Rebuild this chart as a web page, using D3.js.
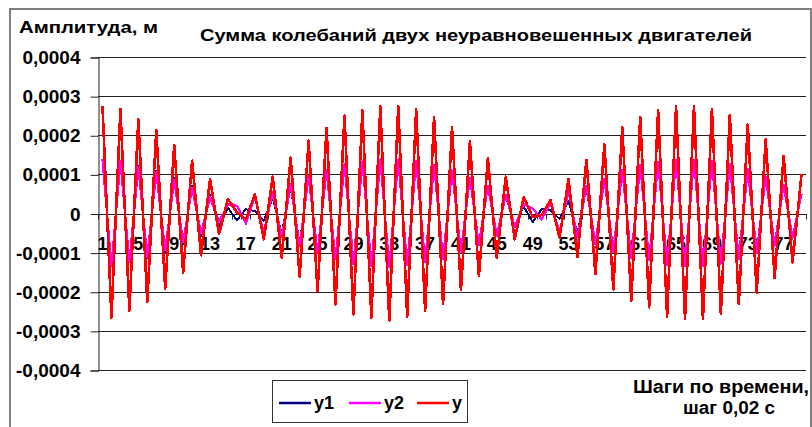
<!DOCTYPE html>
<html>
<head>
<meta charset="utf-8">
<script src="https://cdn.jsdelivr.net/npm/d3@7"></script>
<style>
  html, body { margin: 0; padding: 0; background: #fff; }
  svg { display: block; font-family: "Liberation Sans", Arial, sans-serif; font-weight: bold; }
</style>
</head>
<body>
<svg id="chart" width="812" height="427"></svg>
<script>
// Time steps (0.02 s each)
const categories = d3.range(1, 80);

// Oscillation of the first motor, m
const y1 = [
  1.36e-4, -1.32e-4, 1.33e-4, -1.25e-4, 1.22e-4, -1.14e-4, 1.08e-4, -0.98e-4, 0.90e-4, -0.78e-4,
  0.70e-4, -0.57e-4, 0.47e-4, -0.32e-4, 0.14e-4, -0.17e-4, 0.11e-4, 0.06e-4, -0.18e-4, 0.40e-4,
  -0.52e-4, 0.68e-4, -0.78e-4, 0.91e-4, -0.98e-4, 1.08e-4, -1.15e-4, 1.24e-4, -1.28e-4, 1.31e-4,
  -1.32e-4, 1.37e-4, -1.36e-4, 1.37e-4, -1.32e-4, 1.33e-4, -1.25e-4, 1.23e-4, -1.16e-4, 1.10e-4,
  -0.98e-4, 0.92e-4, -0.80e-4, 0.70e-4, -0.56e-4, 0.46e-4, -0.32e-4, 0.18e-4, -0.22e-4, 0.11e-4,
  0.08e-4, -0.14e-4, 0.32e-4, -0.50e-4, 0.66e-4, -0.76e-4, 0.88e-4, -0.96e-4, 1.09e-4, -1.11e-4,
  1.23e-4, -1.20e-4, 1.32e-4, -1.32e-4, 1.37e-4, -1.35e-4, 1.37e-4, -1.35e-4, 1.33e-4, -1.28e-4,
  1.26e-4, -1.16e-4, 1.14e-4, -1.01e-4, 0.95e-4, -0.83e-4, 0.74e-4, -0.63e-4, 0.50e-4
];

// Oscillation of the second motor, m
const y2 = [
  1.39e-4, -1.34e-4, 1.34e-4, -1.24e-4, 1.19e-4, -1.11e-4, 1.05e-4, -0.94e-4, 0.85e-4, -0.73e-4,
  0.65e-4, -0.50e-4, 0.41e-4, -0.21e-4, 0.23e-4, 0.20e-4, -0.26e-4, 0.43e-4, -0.48e-4, 0.54e-4,
  -0.61e-4, 0.75e-4, -0.84e-4, 0.95e-4, -1.01e-4, 1.10e-4, -1.17e-4, 1.26e-4, -1.30e-4, 1.33e-4,
  -1.34e-4, 1.38e-4, -1.37e-4, 1.38e-4, -1.32e-4, 1.34e-4, -1.24e-4, 1.24e-4, -1.16e-4, 1.10e-4,
  -0.98e-4, 0.92e-4, -0.80e-4, 0.71e-4, -0.57e-4, 0.48e-4, -0.34e-4, 0.24e-4, 0.13e-4, -0.15e-4,
  0.26e-4, -0.48e-4, 0.56e-4, -0.61e-4, 0.71e-4, -0.79e-4, 0.89e-4, -0.98e-4, 1.11e-4, -1.13e-4,
  1.24e-4, -1.20e-4, 1.32e-4, -1.32e-4, 1.38e-4, -1.35e-4, 1.38e-4, -1.35e-4, 1.34e-4, -1.28e-4,
  1.26e-4, -1.16e-4, 1.13e-4, -1.01e-4, 0.95e-4, -0.82e-4, 0.73e-4, -0.62e-4, 0.50e-4
];

// Resulting sum of both oscillations, m
const y = [
  2.75e-4, -2.66e-4, 2.67e-4, -2.49e-4, 2.41e-4, -2.25e-4, 2.13e-4, -1.92e-4, 1.75e-4, -1.51e-4,
  1.35e-4, -1.07e-4, 0.88e-4, -0.53e-4, 0.37e-4, 0.03e-4, -0.15e-4, 0.49e-4, -0.66e-4, 0.94e-4,
  -1.13e-4, 1.43e-4, -1.62e-4, 1.86e-4, -1.99e-4, 2.18e-4, -2.32e-4, 2.50e-4, -2.58e-4, 2.64e-4,
  -2.66e-4, 2.75e-4, -2.73e-4, 2.75e-4, -2.64e-4, 2.67e-4, -2.49e-4, 2.47e-4, -2.32e-4, 2.20e-4,
  -1.96e-4, 1.84e-4, -1.60e-4, 1.41e-4, -1.13e-4, 0.94e-4, -0.66e-4, 0.42e-4, -0.09e-4, -0.04e-4,
  0.34e-4, -0.62e-4, 0.88e-4, -1.11e-4, 1.37e-4, -1.55e-4, 1.77e-4, -1.94e-4, 2.20e-4, -2.24e-4,
  2.47e-4, -2.40e-4, 2.64e-4, -2.64e-4, 2.75e-4, -2.70e-4, 2.75e-4, -2.70e-4, 2.67e-4, -2.56e-4,
  2.52e-4, -2.32e-4, 2.27e-4, -2.02e-4, 1.90e-4, -1.65e-4, 1.47e-4, -1.25e-4, 1.00e-4
];

const yTicks = [-0.0004, -0.0003, -0.0002, -0.0001, 0, 0.0001, 0.0002, 0.0003, 0.0004];
const yTickLabels = ["-0,0004", "-0,0003", "-0,0002", "-0,0001", "0", "0,0001", "0,0002", "0,0003", "0,0004"];
const xLabelStep = 4;

const seriesNames = ["y1", "y2", "y"];
const seriesColors = ["#000080", "#ff00ff", "#ff0000"];
const seriesWidths = [2, 2.2, 2.6];

const svg = d3.select("#chart");

// chart area frame
svg.append("rect")
  .attr("x", 10).attr("y", 9).attr("width", 801).attr("height", 430)
  .attr("fill", "#fff").attr("stroke", "#808080").attr("stroke-width", 2);

const plot = { left: 98, right: 806, top: 57, bottom: 370 };

const x = d3.scaleBand().domain(categories).range([plot.left, plot.right]).padding(0);
const yScale = d3.scaleLinear().domain([-0.0004, 0.0004]).range([plot.bottom, plot.top]);

// horizontal gridlines
svg.append("g")
  .selectAll("line")
  .data(yTicks)
  .join("line")
  .attr("x1", plot.left).attr("x2", plot.right)
  .attr("y1", d => Math.round(yScale(d)) + 0.5).attr("y2", d => Math.round(yScale(d)) + 0.5)
  .attr("stroke", "#222").attr("stroke-width", 1);

// value axis
const yAxis = d3.axisLeft(yScale)
  .tickValues(yTicks)
  .tickSize(8)
  .tickPadding(10)
  .tickFormat((d, i) => yTickLabels[i]);
const gy = svg.append("g").attr("transform", `translate(${plot.left + 0.5},0.5)`).call(yAxis);
gy.select(".domain").attr("stroke", "#222");
gy.selectAll(".tick line").attr("stroke", "#222");
gy.selectAll(".tick text")
  .attr("fill", "#000")
  .style("font-size", "19px")
  .style("font-weight", "bold")
  .style("font-family", "'Liberation Sans', Arial, sans-serif");

// category axis at zero
const y0 = Math.round(yScale(0)) + 0.5;
svg.append("line")
  .attr("x1", plot.left).attr("x2", plot.right + 1)
  .attr("y1", y0).attr("y2", y0)
  .attr("stroke", "#222");
svg.append("g")
  .selectAll("line")
  .data(categories.concat([null]))
  .join("line")
  .attr("x1", d => Math.round(d === null ? plot.right : x(d)) + 0.5)
  .attr("x2", d => Math.round(d === null ? plot.right : x(d)) + 0.5)
  .attr("y1", y0).attr("y2", y0 + 5)
  .attr("stroke", "#222");

// category labels
svg.append("g")
  .selectAll("text")
  .data(categories.filter((c, i) => i % xLabelStep === 0))
  .join("text")
  .attr("x", d => x(d) + x.bandwidth() / 2)
  .attr("y", 250)
  .attr("text-anchor", "middle")
  .style("font-size", "18px")
  .attr("fill", "#000")
  .text(d => d);

// series lines, drawn without anti-aliasing
const line = d3.line()
  .x((d, i) => x(categories[i]) + x.bandwidth() / 2)
  .y(d => yScale(d));

[y1, y2, y].forEach((s, k) => {
  svg.append("path")
    .datum(s)
    .attr("d", line)
    .attr("fill", "none")
    .attr("stroke", seriesColors[k])
    .attr("stroke-width", seriesWidths[k])
    .attr("stroke-linejoin", "round")
    .attr("shape-rendering", "crispEdges");
});

// titles
svg.append("text")
  .attr("x", 19).attr("y", 33)
  .attr("textLength", 139).attr("lengthAdjust", "spacingAndGlyphs")
  .style("font-size", "17px")
  .text("Амплитуда, м");

svg.append("text")
  .attr("x", 200).attr("y", 41)
  .attr("textLength", 552).attr("lengthAdjust", "spacingAndGlyphs")
  .style("font-size", "17px")
  .text("Сумма колебаний двух неуравновешенных двигателей");

svg.append("text")
  .attr("x", 633).attr("y", 393)
  .attr("textLength", 176).attr("lengthAdjust", "spacingAndGlyphs")
  .style("font-size", "18px")
  .text("Шаги по времени,");

svg.append("text")
  .attr("x", 683).attr("y", 414)
  .attr("textLength", 92).attr("lengthAdjust", "spacingAndGlyphs")
  .style("font-size", "18px")
  .text("шаг 0,02 с");

// legend
const legend = svg.append("g");
legend.append("rect")
  .attr("x", 272.5).attr("y", 380.5).attr("width", 195).attr("height", 42)
  .attr("fill", "#fff").attr("stroke", "#333").attr("stroke-width", 1);

const legendX = [279, 349, 417];
seriesNames.forEach((name, k) => {
  legend.append("line")
    .attr("x1", legendX[k]).attr("x2", legendX[k] + 32)
    .attr("y1", 403).attr("y2", 403)
    .attr("stroke", seriesColors[k]).attr("stroke-width", 2.5);
  legend.append("text")
    .attr("x", legendX[k] + 35).attr("y", 409)
    .style("font-size", "18px")
    .text(name);
});
</script>
</body>
</html>
